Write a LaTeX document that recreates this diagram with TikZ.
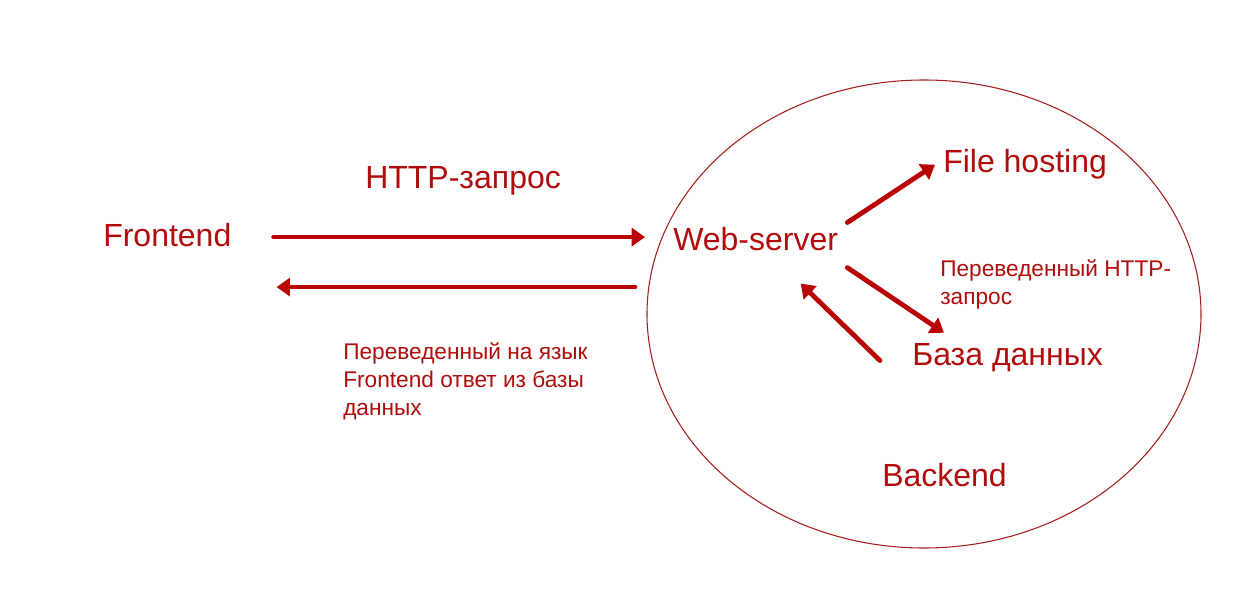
\documentclass[tikz,border=0pt]{standalone}
\usepackage{fontspec}
\setmainfont{Liberation Sans}
\usepackage{xcolor}
\definecolor{webRed}{RGB}{176, 12, 12}
\definecolor{arrowRed}{RGB}{184, 4, 4}
\definecolor{areaRed}{RGB}{165, 30, 30}
\usepackage{tikz}
\usetikzlibrary{
    arrows.meta,
    positioning,
    calc
}

\begin{document}
\begin{tikzpicture}[
    x=0.75pt, y=-0.75pt,
    bigLabel/.style={
        inner sep=0pt, anchor=base west, text=webRed,
        font=\fontsize{24}{28}\selectfont
    },
    noteLabel/.style={
        inner sep=0pt, anchor=north west, text=webRed, align=left,
        font=\fontsize{17}{21}\selectfont
    },
    flowArrow/.style={
        -{Triangle[length=10pt, width=13.5pt]}, line width=3.6pt,
        draw=arrowRed, line cap=round
    },
    areaLine/.style={
        draw=areaRed, line width=0.8pt
    }
]
    \useasboundingbox (0,0) rectangle (1238,599);

    % Backend area
    \draw[areaLine] (924,314) ellipse [x radius=207.75pt, y radius=175.5pt];

    % Labels
    \node[bigLabel] (frontend) at (103,246) {Frontend};
    \node[bigLabel] (httpReq) at (365,189) {HTTP-запрос};
    \node[bigLabel] (webServer) at (673,250) {Web-server};
    \node[bigLabel] (fileHost) at (943,173) {File hosting};
    \node[bigLabel] (dataBase) at (912,365) {База данных};
    \node[bigLabel] (backend) at (882,486) {Backend};

    \node[noteLabel] (noteDb) at (940,259) {Переведенный HTTP-\\запрос};
    \node[noteLabel] (noteFront) at (343,342) {Переведенный на язык\\Frontend ответ из базы\\данных};

    % Arrows
    \draw[flowArrow] ([shift={(42,2.5)}]frontend.east) -- ([shift={(-28,-1.5)}]webServer.west);
    \draw[flowArrow] ([shift={(-38,48.5)}]webServer.west) -- ([shift={(45,52.5)}]frontend.east);

    \draw[flowArrow] ([shift={(9,-4)}]webServer.north east) -- ([xshift=-6]fileHost.west);
    \draw[flowArrow] ([shift={(9,17)}]webServer.south east) -- ([shift={(32,-10)}]dataBase.north west);
    \draw[flowArrow] ([shift={(-32,3.4)}]dataBase.west) -- ([shift={(45,33)}]webServer.south);

\end{tikzpicture}
\end{document}
